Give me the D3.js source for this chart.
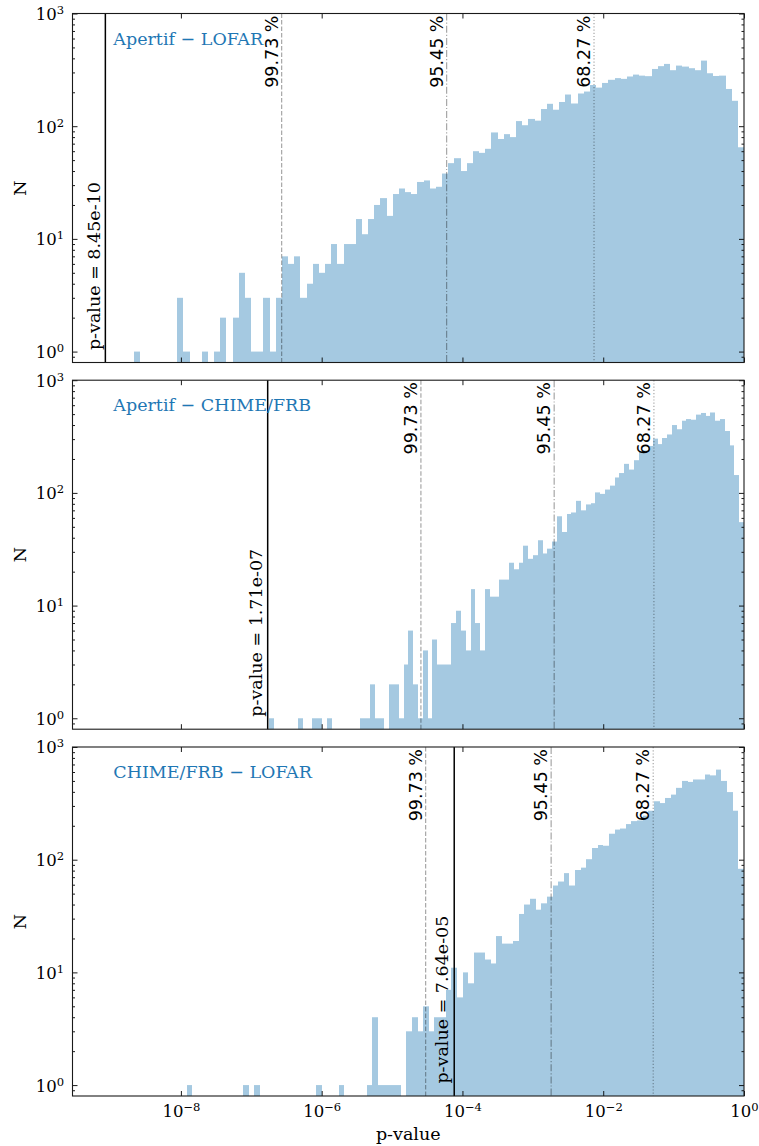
<!DOCTYPE html>
<html>
<head>
<meta charset="utf-8">
<script src="https://cdn.jsdelivr.net/npm/d3@7"></script>
<style>
  body { margin: 0; background: #fff; }
  svg { display: block; }
</style>
</head>
<body>
<div id="wrapper"></div>
<script>
// panel titles
const titles = ["Apertif \u2212 LOFAR", "Apertif \u2212 CHIME/FRB", "CHIME/FRB \u2212 LOFAR"]

// lowest bin edge of each histogram (99 log-spaced bins up to p = 1)
const binStart = [2.16e-9, 1.80e-7, 1.21e-8]

// counts per bin
const countsA = [
  1,0,0,0,0,0,0,3,1,0, 0,1,0,1,2,0,2,5,3,1, 1,3,1,3,
  7,6,7,3,4,6,5,6,9,6, 9,9,15,11,15,20,23,16,25,28, 26,25,32,33,28,29,38,47,52,40, 47,60,
  58,63,88,77,85,80,111,102,116,112, 142,158,140,164,191,159,195,203,232,220,
  242,258,267,263,276,287,281,278,322,341, 357,314,345,338,327,314,382,295,279,281,
  214,168,65
]
const countsB = [
  1,0,0,0,0,0,1,0,0,1, 1,0,1,0,0,0,0,0,0,1, 1,2,1,1,0,2,2,1,3,6,
  2,1,4,1,5,3,3,3,7,9, 6,4,14,7,4,14,12,12,
  17,17,24,21,24,34,26,28,38,29, 32,37,62,45,65,67,85,70,79,81,
  101,98,107,116,137,150,181,161,195,235, 238,261,303,271,307,330,400,367,437,452,
  446,495,512,482,517,437,452,354,264,144, 55
]
const countsC = [
  1,0,0,0,0,0,0,0,0,0, 1,0,1,0,0,0,0,0,0,0, 0,0,0,1,0,0,0,1,0,0,
  0,0,1,4,1,1,1,1,0,3, 4,3,5,3,4,4,7,11,6,10, 8,
  15,15,13,12,21,18,18,19,33,40, 45,36,41,47,59,64,76,59,81,85,
  101,127,135,133,170,185,189,207,220,223, 246,272,330,318,353,378,434,500,490,515,
  515,570,560,630,500,398,272,83
]

// observed p-value of each pair
const observed = [8.45e-10, 1.71e-7, 7.64e-5]
const observedText = ["8.45e-10", "1.71e-07", "7.64e-05"]

// confidence levels and their p-value in each panel
const levelNames = ["99.73 %", "95.45 %", "68.27 %"]
const levelsA = [2.7e-7, 5.96e-5, 7.4e-3]
const levelsB = [2.57e-5, 2.01e-3, 0.0525]
const levelsC = [3.0e-5, 1.82e-3, 0.0513]

const xTickValues = [1e-8, 1e-6, 1e-4, 1e-2, 1]
const yTickValues = [1, 10, 100, 1000]
const yMinorValues = [0.9, 2,3,4,5,6,7,8,9, 20,30,40,50,60,70,80,90, 200,300,400,500,600,700,800,900]

const panels = [
  {counts: countsA, levels: levelsA},
  {counts: countsB, levels: levelsB},
  {counts: countsC, levels: levelsC},
]

const serif = "DejaVu Serif"
const sans = "DejaVu Sans"

const dimensions = {
  width: 759,
  height: 1146,
  left: 72.5,
  right: 744,
  panelHeight: 349,
  panelTops: [13.5, 380.2, 747],
}

const svg = d3.select("#wrapper")
  .append("svg")
    .attr("width", dimensions.width)
    .attr("height", dimensions.height)

const xScale = d3.scaleLog()
  .domain([Math.pow(10, -9.54), 1])
  .range([dimensions.left, dimensions.right])

const yScale = d3.scaleLog()
  .domain([0.8, 1000])
  .range([dimensions.panelHeight, 0])

const levelDash = ["4.5,2", "7,2,1.2,2", "1.2,2"]
const minus = "\u2212"

function powerLabel(text, exponent, fontSize) {
  text.text(null)
  text.append("tspan").text("10")
  text.append("tspan")
    .attr("dy", -6)
    .attr("font-size", fontSize * 0.7)
    .text(exponent)
}

panels.forEach((panel, p) => {
  const h = dimensions.panelHeight
  const bounds = svg.append("g")
    .attr("transform", `translate(0, ${dimensions.panelTops[p]})`)

  // bins
  const lo = Math.log10(binStart[p])
  const step = -lo / panel.counts.length
  const bins = panel.counts.map((c, i) => ({
    c: c,
    x0: Math.pow(10, lo + i * step),
    x1: Math.pow(10, lo + (i + 1) * step),
  }))

  // snap bar edges to whole pixels so neighbouring bars meet without seams
  const px = v => Math.round(xScale(v))

  bounds.append("g")
    .selectAll("rect")
    .data(bins.filter(d => d.c > 0))
    .join("rect")
      .attr("x", d => px(d.x0))
      .attr("width", d => px(d.x1) - px(d.x0))
      .attr("y", d => yScale(d.c))
      .attr("height", d => h - yScale(d.c))
      .attr("fill", "#a5c9e1")

  // confidence level lines
  panel.levels.forEach((v, k) => {
    const xv = xScale(v)
    bounds.append("line")
      .attr("x1", xv).attr("x2", xv)
      .attr("y1", 0).attr("y2", h)
      .attr("stroke", "#000")
      .attr("stroke-opacity", 0.35)
      .attr("stroke-width", 1.2)
      .attr("stroke-dasharray", levelDash[k])
    bounds.append("text")
      .attr("transform", `translate(${xv - 4}, 2) rotate(-90)`)
      .attr("text-anchor", "end")
      .attr("font-family", sans)
      .attr("font-size", 17.5)
      .attr("fill", "#000")
      .text(levelNames[k])
  })

  // observed p-value
  const xo = xScale(observed[p])
  bounds.append("line")
    .attr("x1", xo).attr("x2", xo)
    .attr("y1", 0).attr("y2", h)
    .attr("stroke", "#000")
    .attr("stroke-width", 1.5)
  bounds.append("text")
    .attr("transform", `translate(${xo - 5.8}, ${yScale(1) - 1.5}) rotate(-90)`)
    .attr("text-anchor", "start")
    .attr("font-family", serif)
    .attr("font-size", 17.5)
    .attr("fill", "#000")
    .text(`p-value = ${observedText[p]}`)

  // title
  bounds.append("text")
    .attr("x", 113.3)
    .attr("y", 31.3)
    .attr("font-family", serif)
    .attr("font-size", 17.5)
    .attr("fill", "#1f77b4")
    .text(titles[p])

  // axes, ticks pointing inward on all four sides
  const styleAxis = g => {
    g.select(".domain").remove()
    g.selectAll(".tick line").attr("stroke", "#000").attr("stroke-width", 0.9)
  }

  bounds.append("g")
    .attr("transform", `translate(${dimensions.left}, 0)`)
    .call(d3.axisLeft(yScale).tickValues(yMinorValues).tickSize(-2.5).tickFormat(""))
    .call(styleAxis)
  bounds.append("g")
    .attr("transform", `translate(${dimensions.right}, 0)`)
    .call(d3.axisRight(yScale).tickValues(yMinorValues).tickSize(-2.5).tickFormat(""))
    .call(styleAxis)
  bounds.append("g")
    .attr("transform", `translate(${dimensions.right}, 0)`)
    .call(d3.axisRight(yScale).tickValues(yTickValues).tickSize(-5).tickFormat(""))
    .call(styleAxis)

  const yAxis = bounds.append("g")
    .attr("transform", `translate(${dimensions.left}, 0)`)
    .call(d3.axisLeft(yScale).tickValues(yTickValues).tickSize(-5).tickPadding(8.5))
    .call(styleAxis)
  yAxis.selectAll(".tick text")
    .attr("font-family", serif)
    .attr("font-size", 16.5)
    .attr("fill", "#000")
    .attr("dy", "0.36em")
    .each(function(d) {
      powerLabel(d3.select(this), String(Math.round(Math.log10(d))), 16.5)
    })

  bounds.append("g")
    .call(d3.axisTop(xScale).tickValues(xTickValues).tickSize(-5).tickFormat(""))
    .call(styleAxis)

  const xAxis = bounds.append("g")
    .attr("transform", `translate(0, ${h})`)
    .call(d3.axisBottom(xScale).tickValues(xTickValues).tickSize(-5).tickPadding(9))
    .call(styleAxis)
  if (p === panels.length - 1) {
    xAxis.selectAll(".tick text")
      .attr("font-family", serif)
      .attr("font-size", 16.5)
      .attr("fill", "#000")
      .each(function(d) {
        const e = Math.round(Math.log10(d))
        powerLabel(d3.select(this), e < 0 ? minus + Math.abs(e) : String(e), 16.5)
      })
  } else {
    xAxis.selectAll(".tick text").remove()
  }

  // frame
  bounds.append("rect")
    .attr("x", dimensions.left)
    .attr("y", 0)
    .attr("width", dimensions.right - dimensions.left)
    .attr("height", h)
    .attr("fill", "none")
    .attr("stroke", "#1a1a1a")
    .attr("stroke-width", 1.1)

  // y label
  bounds.append("text")
    .attr("transform", `translate(25.5, ${h / 2}) rotate(-90)`)
    .attr("text-anchor", "middle")
    .attr("font-family", serif)
    .attr("font-size", 17.5)
    .attr("fill", "#000")
    .text("N")
})

svg.append("text")
  .attr("x", (dimensions.left + dimensions.right) / 2)
  .attr("y", 1140.3)
  .attr("text-anchor", "middle")
  .attr("font-family", serif)
  .attr("font-size", 17.5)
  .attr("fill", "#000")
  .text("p-value")
</script>
</body>
</html>
